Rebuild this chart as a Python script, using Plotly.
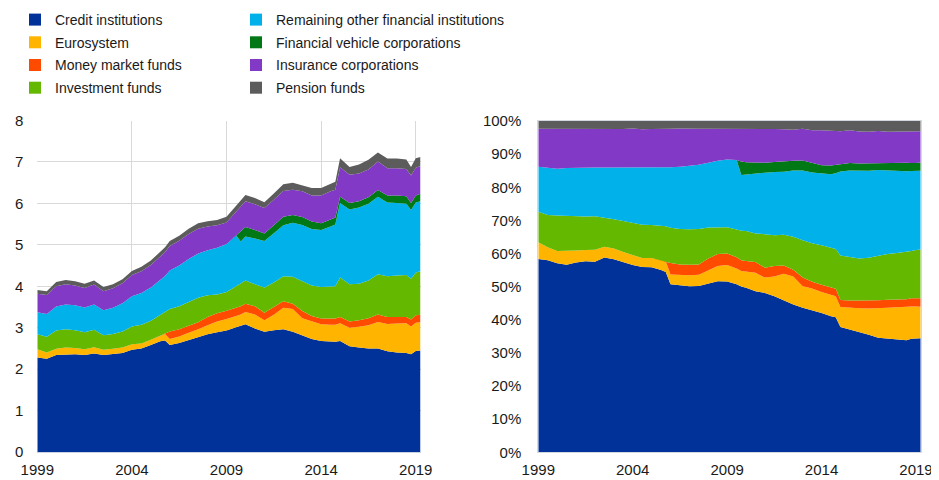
import plotly.graph_objects as go

# Quartals-/Halbjahrespunkte (Dezimaljahr)
YEARS = [1999.0, 1999.5, 2000.0, 2000.5, 2001.0, 2001.5, 2002.0, 2002.5, 2003.0, 2003.5,
         2004.0, 2004.5, 2005.0, 2005.5, 2005.75, 2006.0, 2006.5, 2007.0, 2007.5, 2008.0,
         2008.5, 2009.0, 2009.5, 2009.75, 2010.0, 2010.5, 2011.0, 2011.5, 2012.0, 2012.5,
         2013.0, 2013.5, 2014.0, 2014.5, 2014.75, 2015.0, 2015.5, 2016.0, 2016.5, 2017.0,
         2017.5, 2018.0, 2018.5, 2018.75, 2019.0, 2019.25]

credit = [2.28, 2.25, 2.34, 2.35, 2.36, 2.34, 2.38, 2.34, 2.36, 2.39,
          2.47, 2.50, 2.58, 2.67, 2.69, 2.58, 2.63, 2.70, 2.77, 2.84,
          2.89, 2.93, 3.01, 3.04, 3.08, 2.98, 2.90, 2.94, 2.96, 2.90,
          2.81, 2.73, 2.68, 2.66, 2.66, 2.68, 2.55, 2.52, 2.50, 2.50,
          2.43, 2.40, 2.39, 2.36, 2.44, 2.45]
eurosystem = [0.20, 0.15, 0.15, 0.17, 0.15, 0.14, 0.15, 0.13, 0.13, 0.13,
              0.13, 0.12, 0.13, 0.14, 0.16, 0.15, 0.16, 0.18, 0.19, 0.22,
              0.26, 0.28, 0.28, 0.28, 0.30, 0.34, 0.28, 0.37, 0.52, 0.55,
              0.42, 0.42, 0.40, 0.41, 0.41, 0.43, 0.45, 0.50, 0.56, 0.64,
              0.66, 0.70, 0.72, 0.67, 0.68, 0.68]
mmf = [0.00, 0.00, 0.00, 0.00, 0.00, 0.00, 0.00, 0.00, 0.00, 0.00,
       0.00, 0.00, 0.00, 0.00, 0.00, 0.18, 0.17, 0.17, 0.17, 0.20,
       0.20, 0.20, 0.20, 0.20, 0.20, 0.20, 0.18, 0.20, 0.16, 0.13,
       0.17, 0.13, 0.14, 0.15, 0.15, 0.15, 0.15, 0.16, 0.17, 0.18,
       0.17, 0.16, 0.15, 0.17, 0.18, 0.18]
inv_funds = [0.36, 0.38, 0.44, 0.44, 0.43, 0.41, 0.42, 0.35, 0.36, 0.39,
             0.43, 0.45, 0.46, 0.50, 0.52, 0.54, 0.56, 0.58, 0.59, 0.52,
             0.45, 0.45, 0.50, 0.54, 0.56, 0.53, 0.61, 0.58, 0.60, 0.65,
             0.72, 0.74, 0.76, 0.77, 0.78, 0.95, 0.90, 0.88, 0.91, 0.97,
             0.98, 1.00, 1.01, 0.98, 1.03, 1.05]
rofi = [0.53, 0.55, 0.58, 0.60, 0.60, 0.60, 0.61, 0.60, 0.63, 0.68,
        0.73, 0.77, 0.80, 0.86, 0.88, 0.93, 0.98, 1.03, 1.07, 1.09,
        1.13, 1.16, 1.24, 1.02, 1.06, 1.10, 1.12, 1.19, 1.23, 1.30,
        1.36, 1.36, 1.38, 1.45, 1.49, 1.80, 1.80, 1.84, 1.85, 1.87,
        1.78, 1.75, 1.72, 1.66, 1.69, 1.69]
fvc = [0.00, 0.00, 0.00, 0.00, 0.00, 0.00, 0.00, 0.00, 0.00, 0.00,
       0.00, 0.00, 0.00, 0.00, 0.00, 0.00, 0.00, 0.00, 0.00, 0.00,
       0.00, 0.00, 0.00, 0.25, 0.23, 0.21, 0.18, 0.19, 0.21, 0.19,
       0.19, 0.18, 0.16, 0.17, 0.17, 0.15, 0.16, 0.15, 0.16, 0.16,
       0.17, 0.18, 0.18, 0.17, 0.17, 0.18]
insurance = [0.45, 0.46, 0.49, 0.49, 0.48, 0.47, 0.48, 0.46, 0.47, 0.48,
             0.51, 0.52, 0.54, 0.56, 0.57, 0.59, 0.60, 0.60, 0.60, 0.57,
             0.54, 0.52, 0.56, 0.59, 0.62, 0.62, 0.62, 0.62, 0.62, 0.61,
             0.62, 0.63, 0.67, 0.68, 0.67, 0.71, 0.68, 0.67, 0.67, 0.69,
             0.66, 0.66, 0.66, 0.66, 0.67, 0.67]
pension = [0.09, 0.09, 0.10, 0.10, 0.10, 0.10, 0.10, 0.10, 0.10, 0.10,
           0.10, 0.11, 0.11, 0.12, 0.12, 0.12, 0.12, 0.13, 0.13, 0.13,
           0.13, 0.14, 0.14, 0.15, 0.15, 0.15, 0.14, 0.15, 0.16, 0.17,
           0.15, 0.18, 0.18, 0.19, 0.19, 0.22, 0.19, 0.22, 0.23, 0.22,
           0.23, 0.23, 0.23, 0.21, 0.23, 0.22]

X_TICKS = [1999, 2004, 2009, 2014, 2019]

# (Name, Werte, Farbe, Legende) in Stapelreihenfolge
SERIES = [
    ("Credit institutions", credit, "#003299", "legend"),
    ("Eurosystem", eurosystem, "#FFB400", "legend"),
    ("Money market funds", mmf, "#FF4B00", "legend"),
    ("Investment funds", inv_funds, "#65B800", "legend"),
    ("Remaining other financial institutions", rofi, "#00B1EA", "legend2"),
    ("Financial vehicle corporations", fvc, "#007816", "legend2"),
    ("Insurance corporations", insurance, "#8139C6", "legend2"),
    ("Pension funds", pension, "#5C5C5C", "legend2"),
]

FONT = "Arial, Liberation Sans, sans-serif"
TXT = "#1a1a1a"
# Seite hat 8px Body-Rand -> Figur 8px kleiner, Koordinaten um 8px versetzt
OFF = 8
W, H = 939 - OFF, 480 - OFF

fig = go.Figure()

for i, (name, vals, color, leg) in enumerate(SERIES):
    # links: absolute Werte
    fig.add_trace(go.Scatter(
        x=YEARS, y=vals, name=name, mode="lines",
        stackgroup="abs", line=dict(width=0, color=color),
        fillcolor=color, showlegend=False, xaxis="x", yaxis="y",
    ))
    # rechts: Anteile in Prozent
    fig.add_trace(go.Scatter(
        x=YEARS, y=vals, name=name, mode="lines",
        stackgroup="pct", groupnorm="percent", line=dict(width=0, color=color),
        fillcolor=color, showlegend=False, xaxis="x2", yaxis="y2",
    ))
    # Legendeneintrag mit Quadrat (eigene Gruppe -> Zeilenabstand)
    fig.add_trace(go.Scatter(
        x=[None], y=[None], name=name, mode="markers",
        marker=dict(symbol="square", size=12, color=color),
        legend=leg, legendgroup=f"g{i}", legendrank=i + 1,
        xaxis="x", yaxis="y",
    ))


def px_x(p):
    return (p - OFF) / W


def px_y(p):
    return 1 - (p - OFF) / H


grid = "#d9d9d9"
tickfont = dict(family=FONT, size=15, color=TXT)
legfont = dict(family=FONT, size=14, color=TXT)

fig.update_layout(
    width=W, height=H,
    margin=dict(l=0, r=0, t=0, b=0, autoexpand=False),
    paper_bgcolor="white", plot_bgcolor="white",
    font=dict(family=FONT, color=TXT),
    showlegend=True,
    xaxis=dict(
        domain=[px_x(37.3), px_x(420.5)], range=[1999, 2019.25],
        tickvals=X_TICKS, ticktext=[str(t) for t in X_TICKS],
        showgrid=True, gridcolor=grid, gridwidth=1, zeroline=False,
        showline=True, linecolor="#c9d1e3", linewidth=1,
        tickfont=tickfont, ticks="", ticklabelstandoff=4, automargin=False,
    ),
    yaxis=dict(
        domain=[px_y(452), px_y(120.5)], range=[0, 8], dtick=1,
        showgrid=True, gridcolor=grid, gridwidth=1, zeroline=False,
        showline=False, tickfont=tickfont, ticks="", ticklabelstandoff=13,
        automargin=False,
    ),
    xaxis2=dict(
        domain=[px_x(538.3), px_x(920.7)], range=[1999, 2019.25],
        tickvals=X_TICKS, ticktext=[str(t) for t in X_TICKS],
        showgrid=False, zeroline=False, anchor="y2",
        showline=True, mirror=True, linecolor="#d3d7e0", linewidth=1,
        tickfont=tickfont, ticks="", ticklabelstandoff=4, automargin=False,
    ),
    yaxis2=dict(
        domain=[px_y(452.3), px_y(121)], range=[0, 100], dtick=10,
        ticksuffix="%", anchor="x2",
        showgrid=False, zeroline=False,
        showline=True, mirror=True, linecolor="#d3d7e0", linewidth=1,
        tickfont=tickfont, ticks="", ticklabelstandoff=13, automargin=False,
    ),
    legend=dict(
        x=px_x(15), y=px_y(4), xanchor="left", yanchor="top",
        orientation="v", font=legfont, bgcolor="rgba(0,0,0,0)",
        itemsizing="trace", traceorder="grouped", tracegroupgap=1.5,
    ),
    legend2=dict(
        x=px_x(236), y=px_y(4), xanchor="left", yanchor="top",
        orientation="v", font=legfont, bgcolor="rgba(0,0,0,0)",
        itemsizing="trace", traceorder="grouped", tracegroupgap=1.5,
    ),
)

fig.write_html("out.html")
